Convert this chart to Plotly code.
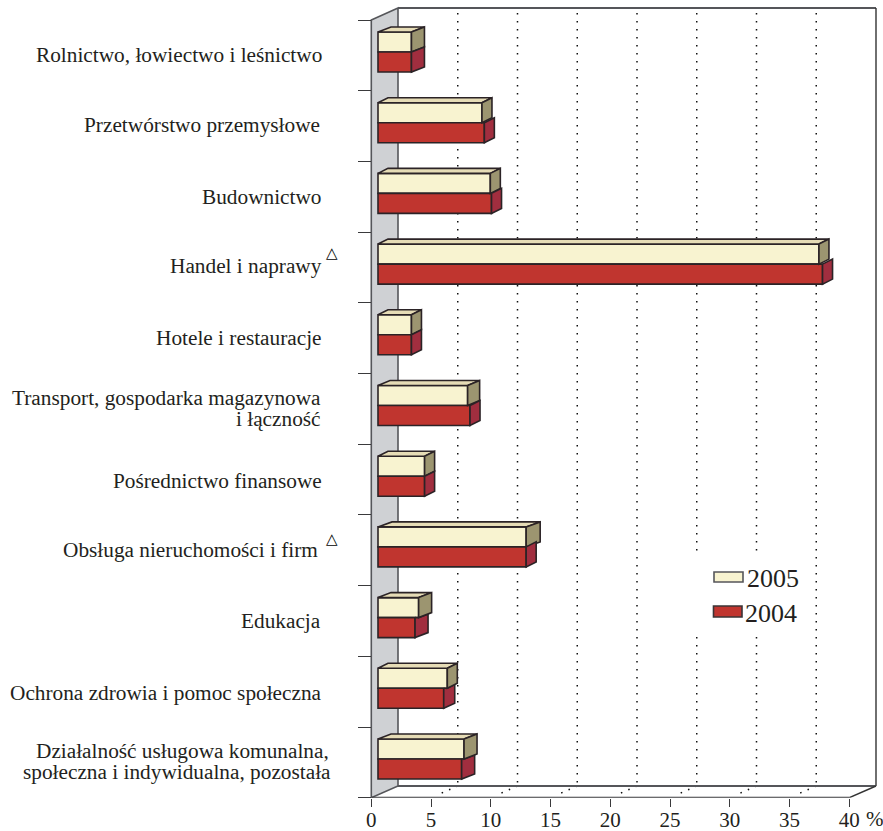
import plotly.graph_objects as go

categories = [
    "Rolnictwo, łowiectwo i leśnictwo",
    "Przetwórstwo przemysłowe",
    "Budownictwo",
    "Handel i naprawy",
    "Hotele i restauracje",
    "Transport, gospodarka magazynowa<br>i łączność",
    "Pośrednictwo finansowe",
    "Obsługa nieruchomości i firm",
    "Edukacja",
    "Ochrona zdrowia i pomoc społeczna",
    "Działalność usługowa komunalna,<br>społeczna i indywidualna, pozostała",
]
values_2005 = [2.8, 8.7, 9.4, 36.9, 2.8, 7.5, 3.9, 12.4, 3.4, 5.8, 7.2]
values_2004 = [2.8, 8.9, 9.5, 37.2, 2.8, 7.7, 3.9, 12.4, 3.1, 5.5, 7.0]
tick_values = [0, 5, 10, 15, 20, 25, 30, 35, 40]
flagged = [3, 7]

# ---- styling / geometry of the pseudo-3D frame (pixels)
W, H = 883, 831
PX_PER_UNIT = 11.95
PX_PER_ROW = 70.7
X0_PX, Y0_PX = 371.3, 20.0
SERIF = "Liberation Serif"
INK = "#231f20"
EDGE = "#2b2326"
FRAME = "#55565a"
CREAM, CREAM_SIDE, CREAM_TOP = "#f8f3d0", "#9c9570", "#e6dcb6"
RED, RED_SIDE = "#c0352f", "#a12e3f"
LABEL_SIZE = 21.3


def X(px):
    return (px - X0_PX) / PX_PER_UNIT


def Y(px):
    return (px - Y0_PX) / PX_PER_ROW


def du(px):
    return px / PX_PER_UNIT


def dv(px):
    return px / PX_PER_ROW


BAR_BASE = du(6.7)
BAR_H = 0.283
ROW_CENTER = 0.4526
WALL_DX, WALL_DY = du(26.7), dv(12)
BOTTOM = 11.0
depth_2005 = [13, 10, 10, 10, 10, 12, 10, 14, 13, 10, 13]
depth_2004 = [13, 10, 10, 10, 10, 10, 10, 10, 13, 11, 13]
BAR_DY = dv(5)
label_right = [324, 322, 324, 324, 324, 323, 324, 320, 323, 324, 333]
label_y = [55, 125, 197, 266, 338, 398, 481, 550, 621, 693, 751]


def path(points):
    return "M" + " L".join(f"{a:.4f},{b:.4f}" for a, b in points) + " Z"


fig = go.Figure()

# bars (front faces)
rows = list(range(len(categories)))
centers = [i + ROW_CENTER for i in rows]
fig.add_trace(go.Bar(
    orientation="h", name="2005", x=values_2005,
    y=[c - BAR_H / 2 for c in centers], base=BAR_BASE, width=BAR_H,
    marker=dict(color=CREAM, line=dict(color=EDGE, width=1.6)),
    showlegend=False, cliponaxis=False,
))
fig.add_trace(go.Bar(
    orientation="h", name="2004", x=values_2004,
    y=[c + BAR_H / 2 for c in centers], base=BAR_BASE, width=BAR_H,
    marker=dict(color=RED, line=dict(color=EDGE, width=1.6)),
    showlegend=False, cliponaxis=False,
))


def poly(points, color):
    xs, ys = zip(*points)
    fig.add_trace(go.Scatter(
        x=list(xs) + [xs[0]], y=list(ys) + [ys[0]], mode="lines", fill="toself",
        fillcolor=color, line=dict(color=EDGE, width=1.6),
        showlegend=False, hoverinfo="skip", cliponaxis=False,
    ))


for i in rows:
    c = centers[i]
    top, mid, bot = c - BAR_H, c, c + BAR_H
    e5, e4 = BAR_BASE + values_2005[i], BAR_BASE + values_2004[i]
    d5, d4 = du(depth_2005[i]), du(depth_2004[i])
    h = BAR_DY
    poly([(BAR_BASE, top), (BAR_BASE + d5, top - h), (e5 + d5, top - h), (e5, top)], CREAM_TOP)
    side5 = [(e5, top), (e5 + d5, top - h), (e5 + d5, mid - h), (e5, mid)]
    if e4 >= e5:
        poly(side5, CREAM_SIDE)
        poly([(e4, mid), (e4 + d4, mid - h), (e4 + d4, bot - h), (e4, bot)], RED_SIDE)
    else:
        far = e4 + d4
        poly([(e4, mid), (e5, mid), (far, mid - h * (far - e5) / d5),
              (far, bot - h), (e4, bot)], RED_SIDE)
        poly(side5, CREAM_SIDE)

# frame and walls, all beneath the bars
shapes = []
back_top, back_bottom = Y(8), Y(786)
shapes.append(dict(type="path", layer="below", fillcolor="#cfd1d4",
                   line=dict(color=FRAME, width=1.6),
                   path=path([(0, 0), (WALL_DX, back_top), (WALL_DX, back_bottom), (0, BOTTOM)])))
for v in tick_values[1:-1]:
    xb = v + WALL_DX
    shapes.append(dict(type="line", layer="below", x0=xb, x1=xb, y0=back_top + dv(5), y1=back_bottom,
                       line=dict(color="#111111", width=1.5, dash="1.5px,6.5px")))
    shapes.append(dict(type="line", layer="below", x0=xb, x1=v + WALL_DX * 0.25,
                       y0=back_bottom, y1=BOTTOM - WALL_DY * 0.25,
                       line=dict(color="#111111", width=1.5, dash="1.5px,6.5px")))
# clear patch behind the legend
shapes.append(dict(type="rect", layer="below", x0=X(690), x1=X(800), y0=Y(552), y1=Y(635),
                   fillcolor="white", line=dict(width=0)))
shapes += [
    dict(type="line", layer="below", x0=WALL_DX, x1=40 + WALL_DX, y0=back_top, y1=back_top,
         line=dict(color=FRAME, width=1.8)),
    dict(type="line", layer="below", x0=40 + WALL_DX, x1=40 + WALL_DX, y0=back_top, y1=back_bottom,
         line=dict(color="#333333", width=1.4)),
    dict(type="line", layer="below", x0=WALL_DX, x1=40 + WALL_DX, y0=back_bottom, y1=back_bottom,
         line=dict(color=FRAME, width=1.8)),
    dict(type="line", layer="below", x0=40, x1=40 + WALL_DX, y0=BOTTOM, y1=back_bottom,
         line=dict(color="#333333", width=1.4)),
    dict(type="line", layer="below", x0=0, x1=40, y0=BOTTOM, y1=BOTTOM,
         line=dict(color="#3a3a3c", width=1.8)),
    # legend swatches
    dict(type="rect", x0=X(714), x1=X(743), y0=Y(572), y1=Y(582), fillcolor=CREAM,
         line=dict(color=FRAME, width=1.6)),
    dict(type="rect", x0=X(713.5), x1=X(742), y0=Y(606), y1=Y(617), fillcolor=RED,
         line=dict(color="#3a3436", width=1.6)),
]

# text
ann = []


def text(x, y, s, size=LABEL_SIZE, xanchor="right"):
    ann.append(dict(x=X(x), y=Y(y), xref="x", yref="y", text=s, showarrow=False,
                    xanchor=xanchor, yanchor="middle",
                    font=dict(family=SERIF, size=size, color=INK)))


for i, cat in enumerate(categories):
    for j, line in enumerate(cat.split("<br>")):
        text(label_right[i] - (2 if i == 10 and j == 0 else 0), label_y[i] + 21 * j, line)
for i in flagged:
    ann.append(dict(x=X(332), y=Y(253 + (i == 7) * 286), xref="x", yref="y", text="△",
                    showarrow=False, font=dict(family="DejaVu Sans", size=15, color="#000000")))
text(745, 578, "2005", size=26, xanchor="left")
text(743, 613, "2004", size=26, xanchor="left")
ann.append(dict(x=X(864), y=1 - 818.5 / H, xref="x", yref="paper", text="%", showarrow=False,
                xanchor="left", yanchor="middle",
                font=dict(family=SERIF, size=21, color=INK)))

fig.update_layout(
    width=W, height=H, margin=dict(l=0, r=0, t=0, b=0),
    paper_bgcolor="white", plot_bgcolor="white", barmode="overlay",
    showlegend=False, shapes=shapes, annotations=ann,
    xaxis=dict(range=[X(0), X(W)], domain=[0, 1], tickmode="array", tickvals=tick_values,
               ticktext=[str(t) for t in tick_values], ticks="outside", ticklen=8, tickwidth=1.4,
               tickcolor="#3a3a3c", showgrid=False, zeroline=False, showline=False,
               ticklabelstandoff=-5,
               tickfont=dict(family=SERIF, size=21, color=INK), automargin=False),
    yaxis=dict(range=[BOTTOM, Y(0)], domain=[1 - (Y0_PX + BOTTOM * PX_PER_ROW) / H, 1],
               anchor="free", position=X0_PX / W, tickmode="array",
               tickvals=list(range(12)), showticklabels=False, ticks="outside", ticklen=13,
               tickwidth=1.4, tickcolor="#3a3a3c", showgrid=False, zeroline=False,
               showline=False, automargin=False),
)
fig.write_html("out.html", config={"displayModeBar": False},
               post_script="document.body.style.margin='0';")
